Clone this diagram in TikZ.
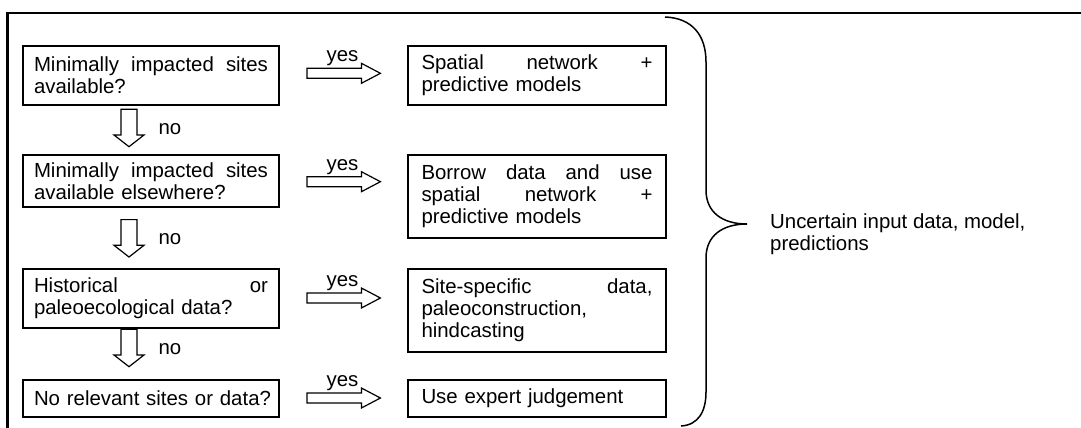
\documentclass[tikz,border=0pt]{standalone}
\usepackage{fontspec}
\setmainfont{Liberation Sans}
\usetikzlibrary{calc}
\begin{document}
\begin{tikzpicture}[x=1pt,y=-1pt,
  txt/.style={font=\fontsize{20.4}{22}\selectfont},
  box/.style={draw, line width=1.4pt, inner xsep=10pt, inner ysep=0pt, align=left, txt},
  lbox/.style={box, text width=234pt, minimum width=256pt},
  rbox/.style={box, text width=231pt, minimum width=258pt},
  lbl/.style={txt, inner sep=0pt},
  blk/.style={draw, line width=1.2pt, fill=white, line join=miter},
  frame/.style={line width=2.3pt, line join=miter},
  bracepath/.style={line width=1.5pt},
  yesarrow/.pic={\draw[blk] (-37,-5) -- (17.4,-5) -- (17.4,-10) -- (36.4,0) -- (17.4,10) -- (17.4,5) -- (-37,5) -- cycle;},
  noarrow/.pic={\draw[blk] (-8,-18.7) -- (8,-18.7) -- (8,7) -- (15,7) -- (0,18.7) -- (-15,7) -- (-8,7) -- cycle;}]
\useasboundingbox (0,0) rectangle (1081,428);
% outer frame
\coordinate (fa) at (1083,13.3);
\coordinate (fb) at (7.5,13.3);
\coordinate (fc) at (7.5,430);
\draw[frame] (fa) -- (fb) -- (fc);
% left question boxes
\node[lbox, minimum height=59pt] (L1) at (151,75.5) {Minimally\hfill impacted\hfill sites\\available?};
\node[lbox, minimum height=52pt] (L2) at (151,181) {Minimally\hfill impacted\hfill sites\\available elsewhere?};
\node[lbox, minimum height=59pt] (L3) at (151,298.5) {Historical\hfill or\\paleoecological data?};
\node[lbox, minimum height=37pt] (L4) at (151,398.5) {\mbox{No relevant sites or data?}};
% right answer boxes
\node[rbox, minimum height=59pt] (R1) at (537,75.5) {Spatial\hfill network\hfill +\\predictive models};
\node[rbox, minimum height=83pt] (R2) at (537,196.5) {Borrow\hfill data\hfill and\hfill use\\spatial\hfill network\hfill +\\predictive models};
\node[rbox, minimum height=83pt] (R3) at (537,310.5) {Site-specific\hfill data,\\paleoconstruction,\\hindcasting};
\node[rbox, minimum height=37pt] (R4) at (537,398.5) {Use expert judgement};
% yes arrows
\coordinate (y1) at (344,73.3);
\coordinate (y2) at (344,181.7);
\coordinate (y3) at (344,298);
\coordinate (y4) at (344,398);
\foreach \c in {y1,y2,y3,y4}{
  \pic at (\c) {yesarrow};
  \node[lbl, anchor=base] at ($(\c)+(-1.5,-11.6)$) {yes};
}
% no arrows
\coordinate (n1) at (129,128);
\coordinate (n2) at (129,238.3);
\coordinate (n3) at (129,348);
\foreach \c in {n1,n2,n3}{
  \pic at (\c) {noarrow};
  \node[lbl, anchor=base] at ($(\c)+(41,6.5)$) {no};
}
% brace
\coordinate (b1) at (665,17);
\coordinate (b2) at (706,62);
\coordinate (b3) at (706,190);
\coordinate (tip) at (747,224);
\coordinate (b4) at (706,258);
\coordinate (b5) at (706,392);
\coordinate (b6) at (681,426);
\draw[bracepath] (b1) .. controls (692,18) and (706,35) .. (b2) -- (b3)
  .. controls (706,212) and (722,224) .. (tip)
  .. controls (722,224) and (706,236) .. (b4) -- (b5)
  .. controls (706,412) and (698,425) .. (b6);
\node[lbl, anchor=west, align=left] (unc) at (770,234) {Uncertain input data, model,\\predictions};
\end{tikzpicture}
\end{document}
